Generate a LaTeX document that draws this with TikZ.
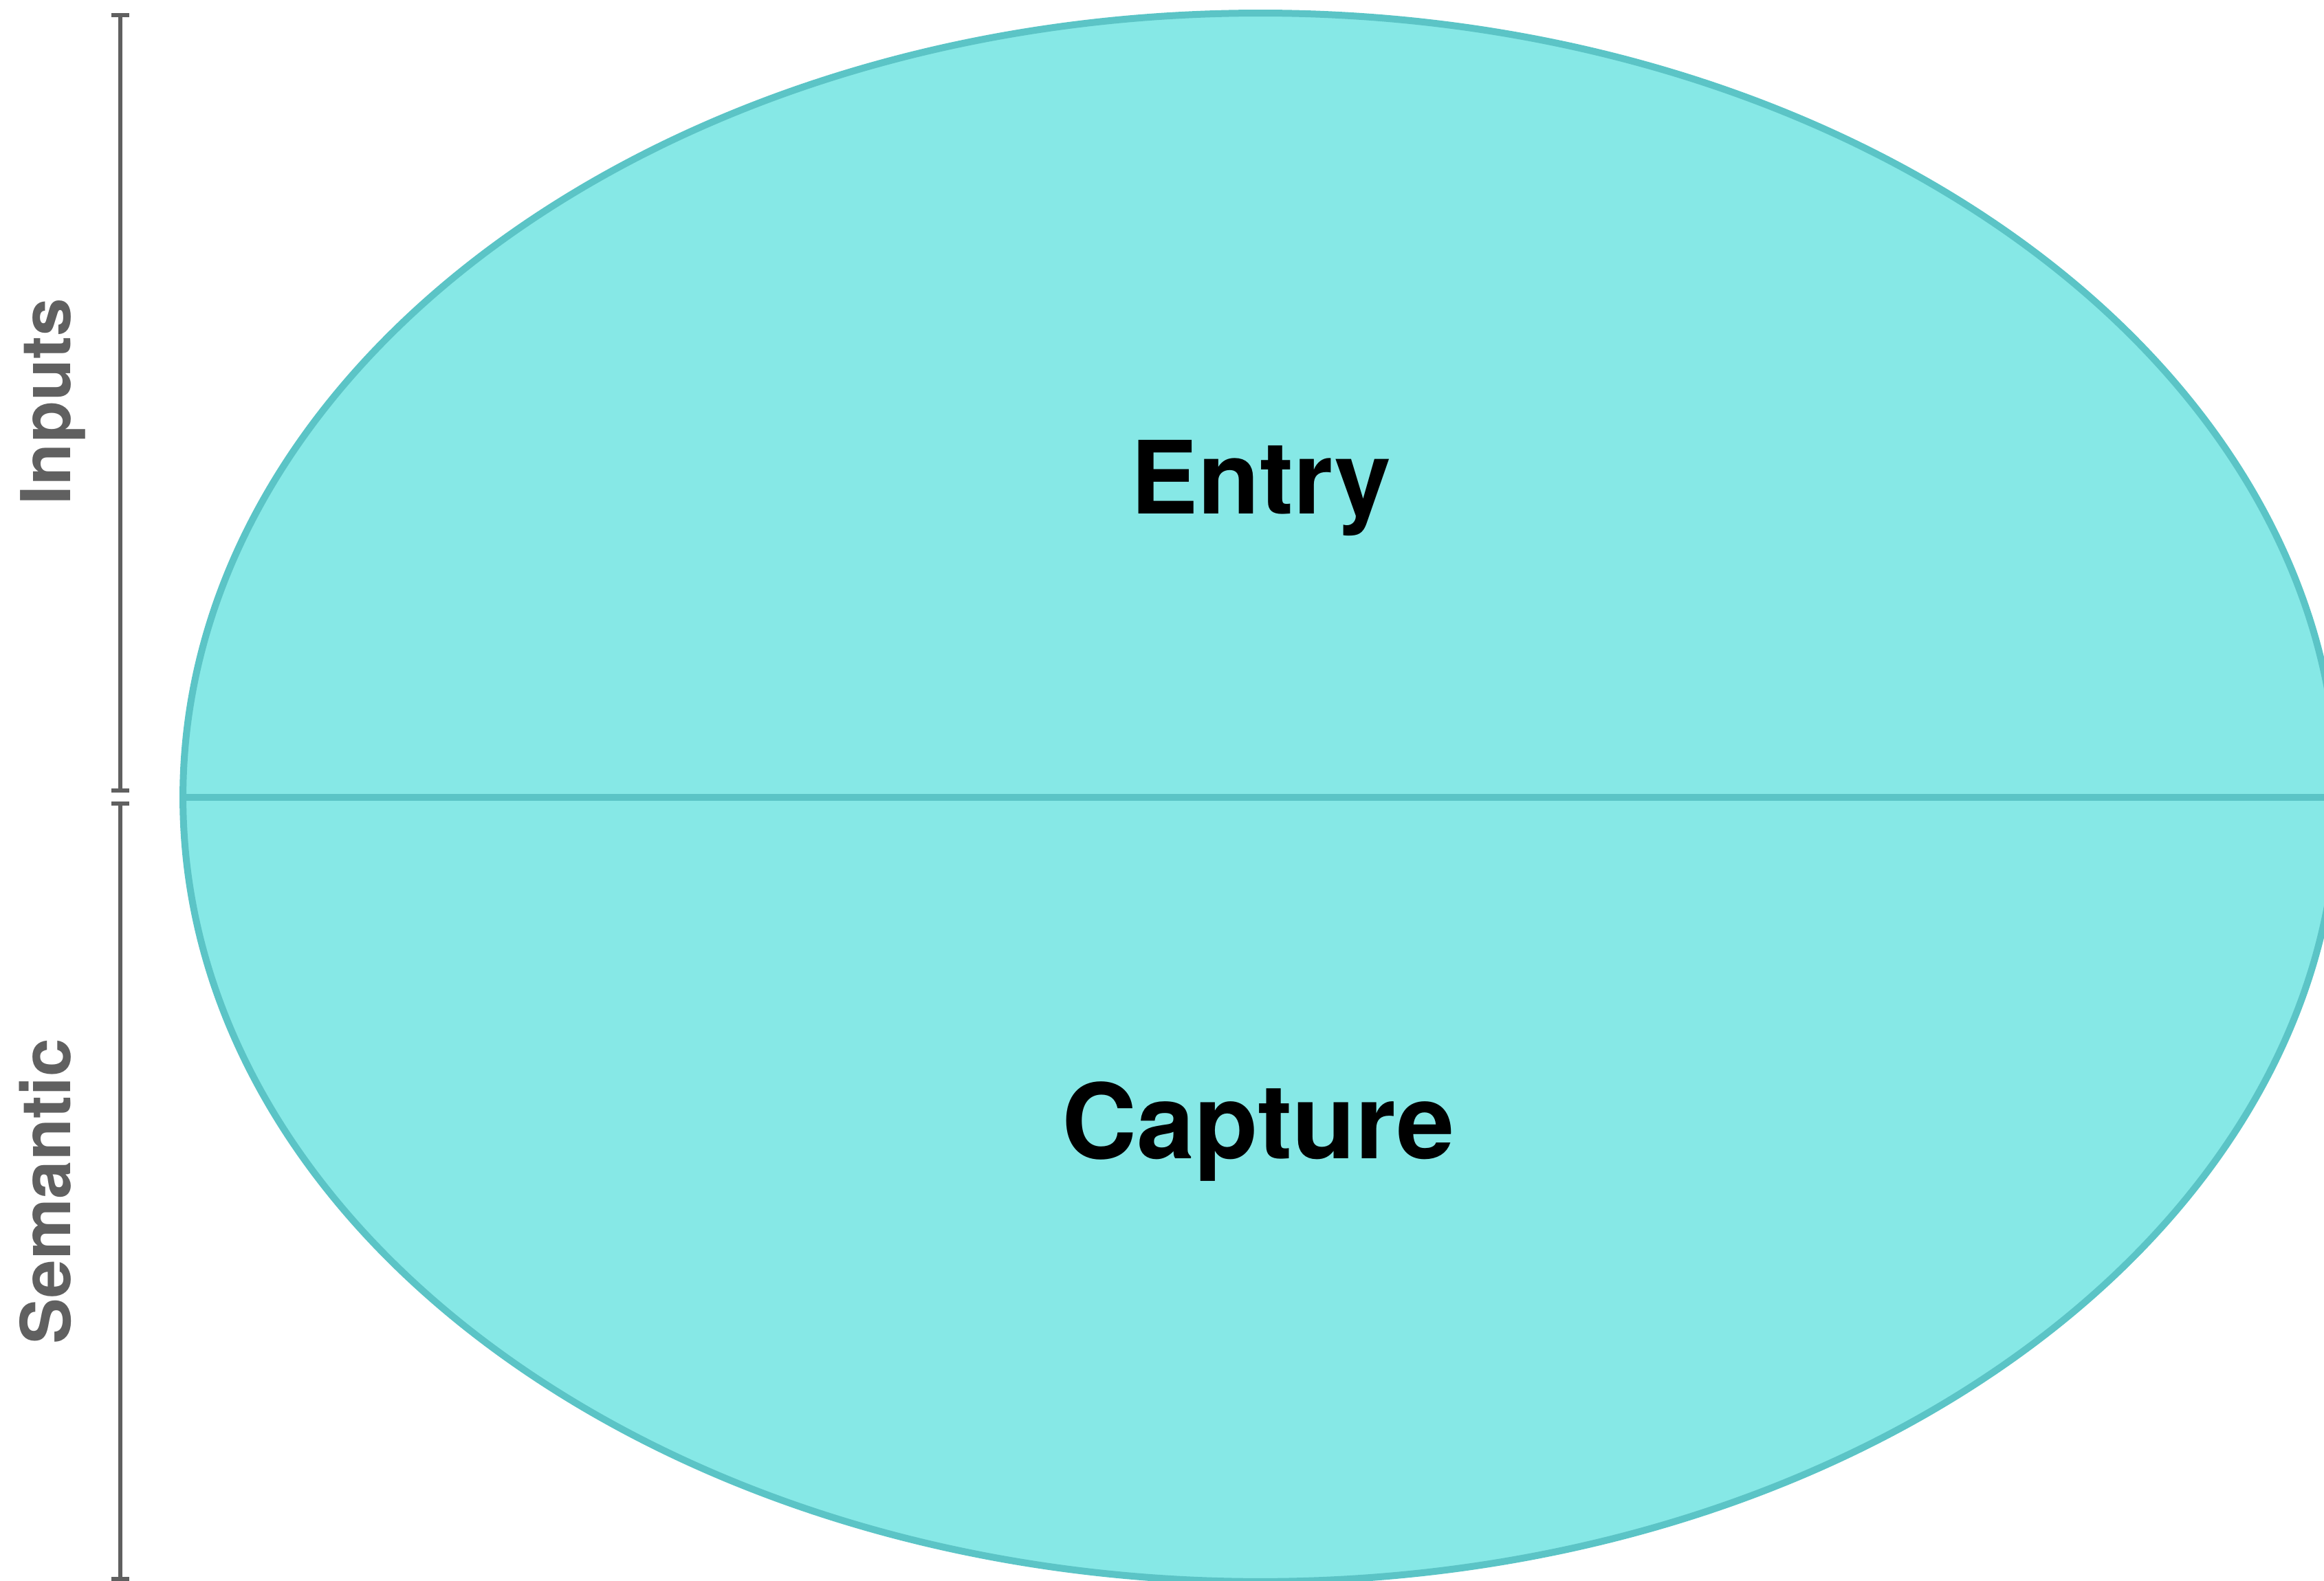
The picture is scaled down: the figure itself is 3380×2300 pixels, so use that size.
\documentclass[tikz,border=0pt]{standalone}
\usepackage{fontspec}
\setmainfont{TeX Gyre Heros}
\usetikzlibrary{shapes.geometric}
\definecolor{discfill}{HTML}{86E8E6}
\definecolor{discline}{HTML}{5BC4C6}
\definecolor{scalegray}{HTML}{606060}
\tikzset{
  disc/.style={ellipse, draw=discline, fill=discfill, line width=1pt,
    minimum width=313.4pt, minimum height=228.2pt, inner sep=0pt, outer sep=0pt},
  divider/.style={draw=discline, line width=1pt},
  zonetext/.style={anchor=base, inner sep=0pt, text=black, font=\bfseries},
  sidetext/.style={anchor=base, inner sep=0pt, rotate=90, text=scalegray,
    font=\bfseries\fontsize{10pt}{12pt}\selectfont},
  scaleline/.style={draw=scalegray, line width=0.55pt}
}
\begin{document}
\begin{tikzpicture}[x=0.1pt, y=-0.1pt]
\useasboundingbox (0,0) rectangle (3380,2300);
\clip (0,0) rectangle (3380,2300);

% the two-part disc
\node[disc] (disc) at (1833,1160) {};
\draw[divider] (disc.west) -- (disc.east);

\node[zonetext, font=\bfseries\fontsize{14.7pt}{17pt}\selectfont] (entry) at (1834,748) {Entry};
\node[zonetext, font=\bfseries\fontsize{15.1pt}{17pt}\selectfont] (capture) at (1830,1686) {Capture};

% scale bars on the left
\coordinate (inTop) at (175,22);
\coordinate (inBot) at (175,1150);
\coordinate (seTop) at (175,1169);
\coordinate (seBot) at (175,2297);
\draw[scaleline] (inTop) -- (inBot);
\draw[scaleline] ([xshift=-1.3pt]inTop) -- ([xshift=1.3pt]inTop);
\draw[scaleline] ([xshift=-1.3pt]inBot) -- ([xshift=1.3pt]inBot);
\draw[scaleline] (seTop) -- (seBot);
\draw[scaleline] ([xshift=-1.3pt]seTop) -- ([xshift=1.3pt]seTop);
\draw[scaleline] ([xshift=-1.3pt]seBot) -- ([xshift=1.3pt]seBot);

\node[sidetext] (inputs) at (102,584) {Inputs};
\node[sidetext] (semantic) at (102,1733) {Semantic};
\end{tikzpicture}
\end{document}
